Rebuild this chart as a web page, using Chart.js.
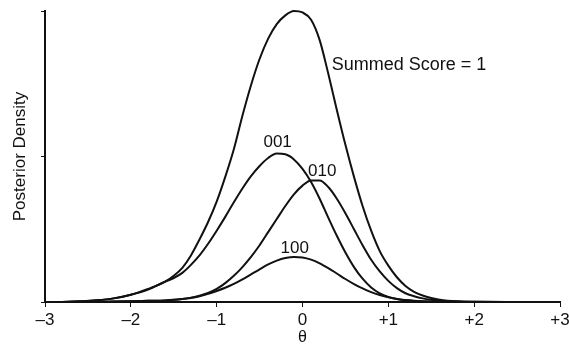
<!DOCTYPE html>
<html lang="en">
<head>
    <meta charset="UTF-8">
    <title>Posterior Density by Response Pattern</title>
    <style>
        body {
            margin: 0;
            background-color: #fff;
        }
        #chart-container {
            width: 569px;
            height: 346px;
        }
    </style>
    <script src="https://cdn.jsdelivr.net/npm/chart.js"></script>
</head>
<body>

<div id="chart-container">
    <canvas id="densityChart" width="569" height="346"></canvas>
</div>

<script>
// theta grid shared by every curve
const theta = [-2.8, -2.6, -2.4, -2.2, -2.0, -1.8, -1.6, -1.5, -1.4, -1.3, -1.2, -1.1, -1.0,
    -0.9, -0.8, -0.7, -0.6, -0.5, -0.4, -0.3, -0.2, -0.1, 0.0, 0.1, 0.2, 0.3, 0.4, 0.5,
    0.6, 0.7, 0.8, 0.9, 1.0, 1.1, 1.2, 1.3, 1.4, 1.5, 1.6, 1.8, 2.0, 2.4, 2.8];

// posterior densities
const summed = [0.0, 0.005, 0.012, 0.025, 0.05, 0.09, 0.14, 0.18, 0.235, 0.32, 0.43, 0.55, 0.69,
    0.86, 1.05, 1.28, 1.49, 1.67, 1.81, 1.91, 1.97, 2.0, 1.99, 1.94, 1.80, 1.57, 1.32, 1.08,
    0.86, 0.66, 0.49, 0.35, 0.25, 0.17, 0.11, 0.07, 0.045, 0.028, 0.016, 0.005, 0.002, 0.0, 0.0];

const p001 = [0.0, 0.005, 0.012, 0.025, 0.05, 0.085, 0.14, 0.165, 0.20, 0.255, 0.32, 0.40, 0.49,
    0.585, 0.685, 0.78, 0.865, 0.935, 0.99, 1.02, 1.015, 0.98, 0.915, 0.825, 0.71, 0.58, 0.455, 0.34,
    0.24, 0.16, 0.10, 0.06, 0.035, 0.02, 0.012, 0.007, 0.004, 0.002, 0.001, 0.0, 0.0, 0.0, 0.0];

const p010 = [0.0, 0.0, 0.002, 0.003, 0.005, 0.008, 0.011, 0.015, 0.021, 0.03, 0.043, 0.062, 0.09,
    0.13, 0.18, 0.24, 0.31, 0.39, 0.48, 0.57, 0.66, 0.74, 0.80, 0.835, 0.835, 0.79, 0.71, 0.61,
    0.50, 0.39, 0.29, 0.21, 0.145, 0.095, 0.06, 0.04, 0.025, 0.015, 0.008, 0.003, 0.001, 0.0, 0.0];

const p100 = [0.0, 0.0, 0.002, 0.003, 0.005, 0.008, 0.011, 0.015, 0.02, 0.028, 0.04, 0.056, 0.076,
    0.098, 0.124, 0.155, 0.19, 0.225, 0.258, 0.284, 0.302, 0.31, 0.306, 0.291, 0.266, 0.233, 0.196, 0.158,
    0.123, 0.093, 0.068, 0.048, 0.032, 0.021, 0.013, 0.008, 0.005, 0.003, 0.002, 0.001, 0.0, 0.0, 0.0];

// x tick values
const thetaTicks = [-3, -2, -1, 0, 1, 2, 3];

// curve labels, placed in data units
const curveLabels = [
    { text: 'Summed Score = 1', x: 0.34, y: 1.63, align: 'left', size: 18 },
    { text: '001', x: -0.29, y: 1.10, align: 'center', size: 17 },
    { text: '010', x: 0.23, y: 0.90, align: 'center', size: 17 },
    { text: '100', x: -0.09, y: 0.37, align: 'center', size: 17 }
];

const fontFamily = "'Liberation Sans', Arial, Helvetica, sans-serif";

function toPoints(values) {
    return theta.map((t, i) => ({ x: t, y: values[i] }));
}

function tickText(v) {
    if (v > 0) return '+' + v;
    if (v < 0) return '\u2013' + Math.abs(v);
    return '0';
}

// draws the text labels next to the curves
const curveLabelPlugin = {
    id: 'curveLabels',
    afterDatasetsDraw(chart) {
        const ctx = chart.ctx;
        const xs = chart.scales.x;
        const ys = chart.scales.y;
        ctx.save();
        ctx.fillStyle = '#111';
        ctx.textBaseline = 'middle';
        curveLabels.forEach(l => {
            ctx.font = l.size + 'px ' + fontFamily;
            ctx.textAlign = l.align;
            ctx.fillText(l.text, xs.getPixelForValue(l.x), ys.getPixelForValue(l.y));
        });
        ctx.restore();
    }
};

const series = [summed, p001, p010, p100];

const ctx = document.getElementById('densityChart').getContext('2d');
const densityChart = new Chart(ctx, {
    type: 'line',
    data: {
        datasets: series.map(s => ({
            data: toPoints(s),
            borderColor: '#111',
            borderWidth: 2,
            pointRadius: 0,
            fill: false,
            cubicInterpolationMode: 'monotone',
            clip: false
        }))
    },
    options: {
        responsive: false,
        animation: false,
        layout: {
            padding: { top: 11, right: 9, left: 0, bottom: 0 }
        },
        plugins: {
            legend: { display: false },
            tooltip: { enabled: false }
        },
        scales: {
            x: {
                type: 'linear',
                min: -3,
                max: 3,
                afterBuildTicks: scale => {
                    scale.ticks = thetaTicks.map(v => ({ value: v }));
                },
                afterFit: scale => {
                    scale.height = 44;
                    scale.paddingLeft = 0;
                    scale.paddingRight = 0;
                },
                ticks: {
                    callback: v => tickText(v),
                    color: '#111',
                    padding: 5,
                    maxRotation: 0,
                    autoSkip: false,
                    font: { family: fontFamily, size: 17, lineHeight: 1.0 }
                },
                grid: {
                    drawOnChartArea: false,
                    drawTicks: true,
                    tickLength: 5,
                    color: '#111'
                },
                border: { display: true, color: '#111', width: 2 },
                title: {
                    display: true,
                    text: 'θ',
                    color: '#111',
                    padding: { top: 0, bottom: 0 },
                    font: { family: fontFamily, size: 16, lineHeight: 1.0 }
                }
            },
            y: {
                min: 0,
                max: 2,
                afterBuildTicks: scale => {
                    scale.ticks = [0, 1, 2].map(v => ({ value: v }));
                },
                afterFit: scale => {
                    scale.width = 45;
                    scale.paddingTop = 0;
                    scale.paddingBottom = 0;
                },
                ticks: {
                    callback: () => '',
                    padding: 0
                },
                grid: {
                    drawOnChartArea: false,
                    drawTicks: true,
                    tickLength: 4,
                    color: '#111'
                },
                border: { display: true, color: '#111', width: 2 },
                title: {
                    display: true,
                    text: 'Posterior Density',
                    color: '#111',
                    padding: { top: 10, bottom: 0 },
                    font: { family: fontFamily, size: 17 }
                }
            }
        }
    },
    plugins: [curveLabelPlugin]
});
</script>

</body>
</html>
